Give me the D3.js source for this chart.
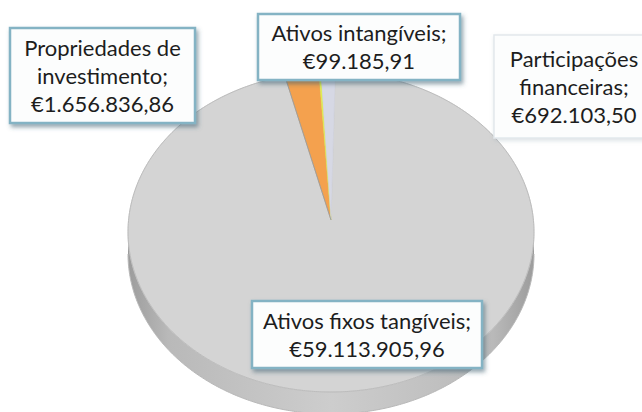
<!DOCTYPE html>
<html>
<head>
<meta charset="utf-8">
<script src="https://cdn.jsdelivr.net/npm/d3@7"></script>
<style>
  html, body { margin: 0; padding: 0; background: #fff; }
  svg { display: block; }
</style>
</head>
<body>
<div class="chart"></div>
<script>
// data
const categories = ["Ativos fixos tangíveis", "Propriedades de investimento", "Ativos intangíveis", "Participações financeiras"];
const values = [59113905.96, 1656836.86, 99185.91, 692103.50];
const topColors = ["#d4d4d4", "#f4a14e", "#e2ee4e", "#d6d8e4"];

// layout
const width = 642, height = 412;
const cx = 331, cy = 232, rx = 203, ry = 160, depth = 22;
const apexLift = 12;      // perspective: the slice apex sits a bit above the ellipse centre
const startDeg = 1.2;
const fontSize = 22, lineH = 28;

// label boxes (x, y, w, h) in the same order as categories
const boxes = [
  { x: 252, y: 301, w: 230, h: 67 },
  { x: 10, y: 28, w: 185, h: 95 },
  { x: 258, y: 14, w: 202, h: 66 },
  { x: 494, y: 35, w: 160, h: 103, faint: true }
];

const svg = d3.select(".chart")
  .append("svg")
  .attr("width", width)
  .attr("height", height);

const defs = svg.append("defs");

// side gradient, darker towards the rim edges
const sideGrad = defs.append("linearGradient")
  .attr("id", "sideGrad")
  .attr("gradientUnits", "userSpaceOnUse")
  .attr("x1", cx - rx).attr("x2", cx + rx).attr("y1", 0).attr("y2", 0);
[[0, "#9c9c9c"], [0.1, "#b9b9b9"], [0.5, "#cdcdcd"], [0.9, "#b9b9b9"], [1, "#9c9c9c"]]
  .forEach(s => sideGrad.append("stop").attr("offset", s[0]).attr("stop-color", s[1]));

const shadow = defs.append("filter").attr("id", "shadow")
  .attr("x", "-20%").attr("y", "-20%").attr("width", "140%").attr("height", "150%");
shadow.append("feDropShadow")
  .attr("dx", 2).attr("dy", 3).attr("stdDeviation", 2)
  .attr("flood-color", "#3d6070").attr("flood-opacity", 0.55);

const shadowFaint = defs.append("filter").attr("id", "shadowFaint")
  .attr("x", "-20%").attr("y", "-20%").attr("width", "140%").attr("height", "150%");
shadowFaint.append("feDropShadow")
  .attr("dx", 1).attr("dy", 2).attr("stdDeviation", 2)
  .attr("flood-color", "#8aa0aa").attr("flood-opacity", 0.3);

// pie angles (clockwise from 12 o'clock)
const a0 = startDeg * Math.PI / 180;
const pie = d3.pie()
  .sort(null)
  .value(d => d.value)
  .startAngle(a0)
  .endAngle(a0 + 2 * Math.PI);

const slices = pie(categories.map((c, i) => ({ name: c, value: values[i], i })));

// project an angle onto the tilted ellipse
const pt = (a, dy) => [cx + rx * Math.sin(a), cy - ry * Math.cos(a) + (dy || 0)];
const sample = (s, e, dy) => {
  const n = Math.max(2, Math.ceil((e - s) / 0.01));
  return d3.range(n + 1).map(k => pt(s + (e - s) * k / n, dy));
};
const line = d3.line();

// side walls: only the front half (pi/2 .. 3pi/2) is visible
const front = [Math.PI / 2, 3 * Math.PI / 2];
slices.forEach(d => {
  const s = Math.max(d.startAngle, front[0]);
  const e = Math.min(d.endAngle, front[1]);
  if (e <= s) return;
  const upper = sample(s, e, 0);
  const lower = sample(s, e, depth).reverse();
  svg.append("path")
    .attr("d", line(upper.concat(lower)) + "Z")
    .attr("fill", d.index === 0 ? "url(#sideGrad)" : d3.color(topColors[d.index]).darker(0.5));
  svg.append("path")
    .attr("d", line(sample(s, e, depth)))
    .attr("fill", "none")
    .attr("stroke", "#b8b8b8")
    .attr("stroke-width", 1);
});

// top faces
const apex = [cx, cy - apexLift];
svg.selectAll("path.top")
  .data(slices)
  .join("path")
  .attr("class", "top")
  .attr("d", d => line([apex].concat(sample(d.startAngle, d.endAngle, 0))) + "Z")
  .attr("fill", d => topColors[d.index])
  .attr("stroke", d => d3.color(topColors[d.index]).darker(0.15))
  .attr("stroke-width", 0.5);

// thin dark edge on the left side of the orange slice
svg.append("path")
  .attr("d", line([apex, pt(slices[1].startAngle, 0)]))
  .attr("stroke", "#8d9ba6")
  .attr("stroke-width", 0.8)
  .attr("fill", "none");

// rim line on the top face edge
svg.append("path")
  .attr("d", line(sample(0, 2 * Math.PI, 0)) + "Z")
  .attr("fill", "none")
  .attr("stroke", "#bcbcbc")
  .attr("stroke-width", 1);

// labels
const locale = d3.formatLocale({ decimal: ",", thousands: ".", grouping: [3], currency: ["€", ""] });
const fmt = locale.format("$,.2f");

const labels = svg.append("g")
  .style("font-family", "Lato, 'Open Sans', sans-serif")
  .style("font-size", fontSize + "px")
  .attr("fill", "#1d1d1d");

// measure helper for word wrapping
const measure = labels.append("text").attr("visibility", "hidden");
const textWidth = t => { measure.text(t); return measure.node().getComputedTextLength(); };

slices.forEach(d => {
  const b = boxes[d.index];
  const maxW = b.w - 12;
  const words = (d.data.name + ";").split(" ");
  const lines = [];
  let cur = "";
  words.forEach(w => {
    const test = cur ? cur + " " + w : w;
    if (cur && textWidth(test) > maxW) { lines.push(cur); cur = w; } else cur = test;
  });
  lines.push(cur);
  lines.push(fmt(d.data.value));

  const g = labels.append("g");
  g.append("rect")
    .attr("x", b.x).attr("y", b.y)
    .attr("width", b.w).attr("height", b.h)
    .attr("fill", "#fcfdfd")
    .attr("stroke", b.faint ? "#e2e8ec" : "#84b3c4")
    .attr("stroke-width", b.faint ? 1.5 : 2.5)
    .attr("filter", b.faint ? "url(#shadowFaint)" : "url(#shadow)");

  const midY = b.y + b.h / 2;
  g.selectAll("text")
    .data(lines)
    .join("text")
    .attr("x", b.x + b.w / 2)
    .attr("y", (t, k) => midY + (k - (lines.length - 1) / 2) * lineH + 8)
    .attr("text-anchor", "middle")
    .text(t => t);
});
measure.remove();
</script>
</body>
</html>
